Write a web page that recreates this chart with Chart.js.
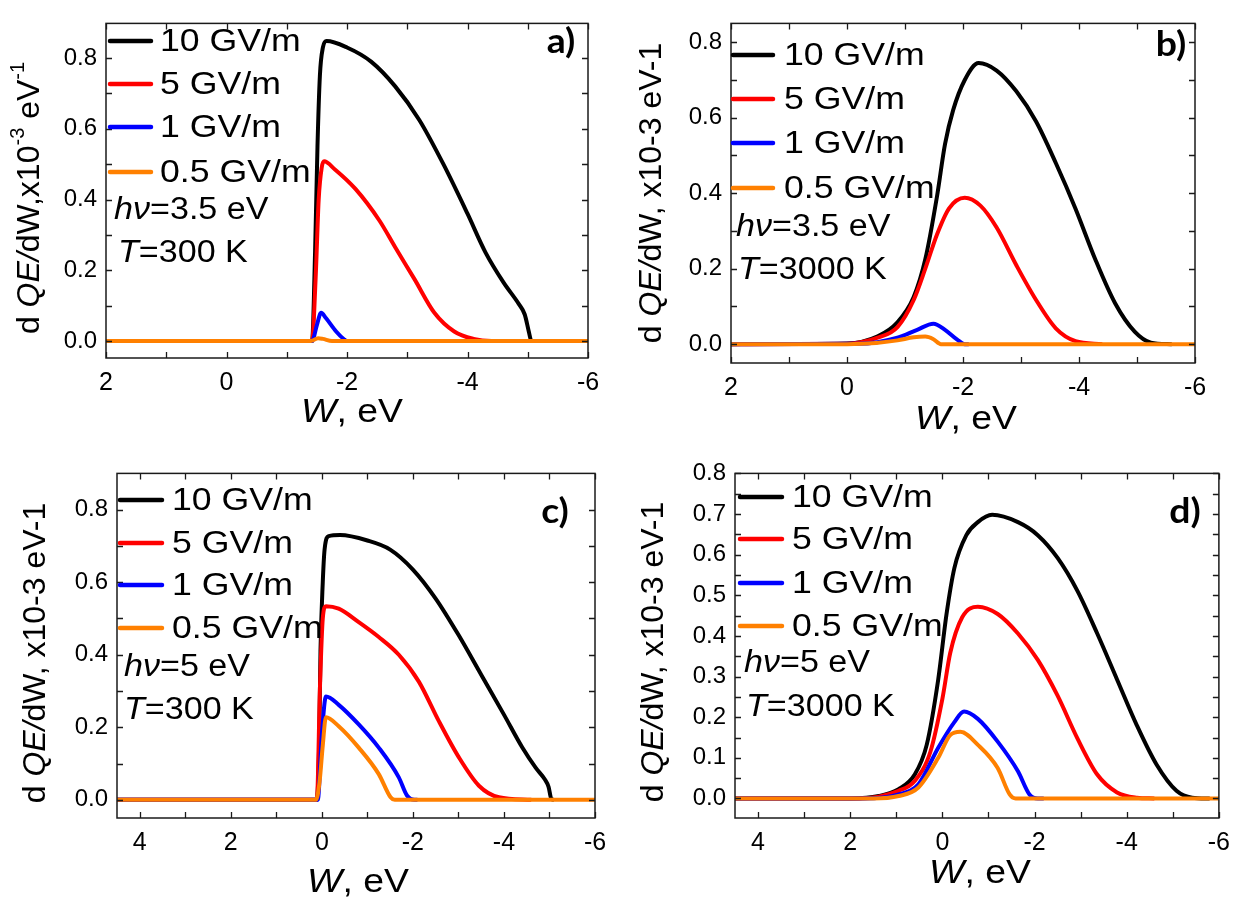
<!DOCTYPE html>
<html>
<head>
<meta charset="utf-8">
<script src="https://cdn.jsdelivr.net/npm/chart.js@4.4.1/dist/chart.umd.min.js"></script>
<style>
  body { margin: 0; background: #fff; width: 1240px; height: 906px; position: relative; overflow: hidden; }
  canvas { position: absolute; }
</style>
</head>
<body>
<canvas id="chartA" width="620" height="440" style="left:0;top:0"></canvas>
<canvas id="chartB" width="620" height="440" style="left:620px;top:0"></canvas>
<canvas id="chartC" width="620" height="456" style="left:0;top:450px"></canvas>
<canvas id="chartD" width="620" height="456" style="left:620px;top:450px"></canvas>
<script>
const FONT = '"Liberation Sans", Arial, sans-serif';

const fieldLabels = ['10 GV/m', '5 GV/m', '1 GV/m', '0.5 GV/m'];
const lineColors = ['#000000', '#ff0000', '#0000ff', '#ff8000'];

// tick values
const xMajorAB = [2, 0, -2, -4, -6];
const xMinorAB = [1, -1, -3, -5];
const xMajorCD = [4, 2, 0, -2, -4, -6];
const xMinorCD = [3, 1, -1, -3, -5];
const yMajorABC = [0, 0.2, 0.4, 0.6, 0.8];
const yMinorABC = [0.1, 0.3, 0.5, 0.7];
const yMajorD = [0, 0.1, 0.2, 0.3, 0.4, 0.5, 0.6, 0.7, 0.8];
const yMinorD = [0.05, 0.15, 0.25, 0.35, 0.45, 0.55, 0.65, 0.75];

// a) hv=3.5 eV, T=300 K
const aW10 = [2, -1.42, -1.47, -1.51, -1.55, -1.60, -1.66, -2.0, -2.4, -2.8, -3.2, -3.6, -4.0, -4.3, -4.6, -4.85, -4.95, -5.02, -5.06, -5.2];
const aQ10 = [0, 0, 0.25, 0.55, 0.75, 0.83, 0.848, 0.83, 0.79, 0.72, 0.625, 0.50, 0.36, 0.25, 0.165, 0.105, 0.075, 0.025, 0, 0];
const aW5 = [2, -1.42, -1.48, -1.53, -1.58, -1.62, -1.8, -2.14, -2.54, -2.8, -3.12, -3.45, -3.78, -4.1, -4.4, -4.8];
const aQ5 = [0, 0, 0.18, 0.40, 0.49, 0.508, 0.485, 0.43, 0.34, 0.265, 0.175, 0.08, 0.027, 0.006, 0, 0];
const aW1 = [2, -1.42, -1.5, -1.57, -1.65, -1.82, -1.95, -2.0, -2.2];
const aQ1 = [0, 0, 0.045, 0.08, 0.065, 0.027, 0.005, 0, 0];
const aW05 = [2, -1.4, -1.52, -1.6, -1.75, -6];
const aQ05 = [0, 0, 0.008, 0.006, 0, 0];

// b) hv=3.5 eV, T=3000 K
const bW10 = [2, 0, -0.53, -0.87, -1.15, -1.35, -1.55, -1.69, -1.83, -2.03, -2.27, -2.58, -2.92, -3.26, -3.6, -3.94, -4.28, -4.62, -4.96, -5.24, -5.6];
const bQ10 = [0, 0.002, 0.021, 0.058, 0.125, 0.225, 0.39, 0.53, 0.62, 0.70, 0.745, 0.725, 0.67, 0.59, 0.48, 0.359, 0.225, 0.109, 0.033, 0.004, 0];
const bW5 = [2, 0, -0.53, -0.87, -1.15, -1.35, -1.55, -1.76, -2.03, -2.3, -2.58, -2.92, -3.26, -3.6, -3.94, -4.4];
const bQ5 = [0, 0.001, 0.017, 0.045, 0.117, 0.2, 0.29, 0.36, 0.388, 0.367, 0.309, 0.209, 0.117, 0.042, 0.008, 0];
const bW1 = [2, -0.2, -0.87, -1.21, -1.49, -1.69, -1.9, -2.03, -2.1];
const bQ1 = [0, 0.001, 0.017, 0.038, 0.054, 0.038, 0.012, 0, 0];
const bW05 = [2, 0, -0.5, -0.87, -1.15, -1.35, -1.49, -1.62, -6];
const bQ05 = [0, 0, 0.003, 0.01, 0.018, 0.02, 0.013, 0, 0];

// c) hv=5 eV, T=300 K
const cW10 = [4.5, 0.11, 0.06, 0.03, -0.02, -0.06, -0.15, -0.4, -1.0, -1.5, -2.0, -2.5, -3.0, -3.5, -4.0, -4.4, -4.7, -4.9, -4.98, -5.04, -5.1];
const cQ10 = [0, 0, 0.15, 0.41, 0.6, 0.69, 0.727, 0.73, 0.715, 0.69, 0.635, 0.555, 0.455, 0.345, 0.235, 0.145, 0.088, 0.056, 0.036, 0.003, 0];
const cW5 = [4.5, 0.11, 0.04, -0.02, -0.09, -0.37, -0.81, -1.25, -1.69, -2.13, -2.57, -3.01, -3.45, -3.89, -4.6];
const cQ5 = [0, 0, 0.317, 0.5, 0.534, 0.527, 0.49, 0.449, 0.40, 0.326, 0.217, 0.117, 0.039, 0.007, 0];
const cW1 = [4.5, 0.09, 0, -0.09, -0.37, -0.81, -1.25, -1.69, -1.87, -2.04, -2.1];
const cQ1 = [0, 0, 0.18, 0.285, 0.262, 0.208, 0.144, 0.062, 0.012, 0, 0];
const cW05 = [4.5, 0.13, 0.05, -0.02, -0.09, -0.37, -0.81, -1.25, -1.51, -1.6, -6];
const cQ05 = [0, 0, 0.05, 0.15, 0.228, 0.203, 0.144, 0.071, 0.007, 0, 0];

// d) hv=5 eV, T=3000 K
const dW10 = [4.5, 1.98, 1.38, 0.95, 0.6, 0.34, 0.09, -0.09, -0.26, -0.52, -0.77, -1.08, -1.64, -2.07, -2.5, -2.93, -3.36, -3.79, -4.22, -4.65, -5.08, -5.42, -5.8];
const dQ10 = [0, 0, 0.006, 0.023, 0.059, 0.132, 0.293, 0.454, 0.567, 0.648, 0.68, 0.698, 0.68, 0.648, 0.592, 0.511, 0.406, 0.293, 0.18, 0.083, 0.019, 0.002, 0];
const dW5 = [4.5, 1.81, 0.95, 0.6, 0.26, 0, -0.17, -0.43, -0.77, -1.2, -1.64, -2.07, -2.5, -2.93, -3.36, -3.79, -4.22, -4.6];
const dQ5 = [0, 0, 0.019, 0.043, 0.115, 0.245, 0.358, 0.446, 0.472, 0.454, 0.406, 0.341, 0.253, 0.148, 0.059, 0.015, 0.002, 0];
const dW1 = [4.5, 1.7, 0.95, 0.52, 0.09, -0.26, -0.47, -0.77, -1.2, -1.64, -1.89, -2.07, -2.2];
const dQ1 = [0, 0, 0.01, 0.035, 0.125, 0.188, 0.214, 0.196, 0.14, 0.067, 0.01, 0, 0];
const dW05 = [4.5, 1.5, 0.95, 0.52, 0.09, -0.17, -0.39, -0.77, -1.2, -1.46, -1.59, -6];
const dQ05 = [0, 0, 0.006, 0.027, 0.10, 0.156, 0.164, 0.132, 0.075, 0.01, 0, 0];

const pts = (ws, qs) => ws.map((w, i) => ({ x: w, y: qs[i] }));

function fontFor(st, size) {
    if (st === 'i') return 'italic ' + size + 'px ' + FONT;
    if (st === 's') return Math.round(size * 0.62) + 'px ' + FONT;
    return size + 'px ' + FONT;
}

// draws a line of text made of runs: [text, style] ('' normal, 'i' italic, 's' superscript)
// sx stretches the text along its own direction
function drawRich(ctx, runs, x, y, size, align, sx) {
    sx = sx || 1;
    let total = 0;
    for (const [t, st] of runs) {
        ctx.font = fontFor(st, size);
        total += ctx.measureText(t).width;
    }
    ctx.save();
    ctx.translate(x, y);
    ctx.scale(sx, 1);
    let cx = align === 'center' ? -total / 2 : 0;
    ctx.textAlign = 'left';
    ctx.textBaseline = 'middle';
    for (const [t, st] of runs) {
        ctx.font = fontFor(st, size);
        const dy = st === 's' ? -size * 0.36 : 0;
        ctx.fillText(t, cx, dy);
        cx += ctx.measureText(t).width;
    }
    ctx.restore();
}

function decor(p) {
    return {
        id: 'decor',
        afterDatasetsDraw(chart) {
            const ctx = chart.ctx;
            const a = chart.chartArea;
            const xs = chart.scales.x, ys = chart.scales.y;
            ctx.save();
            ctx.strokeStyle = '#1a1a1a';
            ctx.lineWidth = 1.5;
            ctx.strokeRect(a.left, a.top, a.right - a.left, a.bottom - a.top);

            ctx.lineWidth = 1.3;
            ctx.beginPath();
            for (const v of p.xMajor.concat(p.xMinor)) {
                const px = Math.round(xs.getPixelForValue(v)) + 0.5;
                ctx.moveTo(px, a.bottom); ctx.lineTo(px, a.bottom - 6);
                ctx.moveTo(px, a.top); ctx.lineTo(px, a.top + 6);
            }
            for (const v of p.yMajor.concat(p.yMinor)) {
                const py = Math.round(ys.getPixelForValue(v)) + 0.5;
                ctx.moveTo(a.left, py); ctx.lineTo(a.left + 6, py);
                ctx.moveTo(a.right, py); ctx.lineTo(a.right - 6, py);
            }
            ctx.stroke();

            // legend
            ctx.lineCap = 'round';
            chart.data.datasets.forEach((ds, i) => {
                const y = p.legend.rows[i];
                ctx.strokeStyle = ds.borderColor;
                ctx.lineWidth = 4.5;
                ctx.beginPath();
                ctx.moveTo(p.legend.x0, y);
                ctx.lineTo(p.legend.x1, y);
                ctx.stroke();
                ctx.fillStyle = '#000';
                drawRich(ctx, [[ds.label, '']], p.legend.tx, y + 1, 31, 'left', 1.15);
            });

            ctx.fillStyle = '#000';
            drawRich(ctx, [['hν', 'i'], ['=' + p.photon, '']], p.hv[0], p.hv[1], 31, 'left', 1.1);
            drawRich(ctx, [['T', 'i'], ['=' + p.temp, '']], p.t[0], p.t[1], 31, 'left', 1.1);

            ctx.save();
            ctx.translate(p.letterPos[0], p.letterPos[1]);
            ctx.scale(1.1, 1);
            ctx.font = 'bold 34px Lato, "Liberation Sans", sans-serif';
            ctx.textAlign = 'center';
            ctx.textBaseline = 'middle';
            ctx.fillText(p.letter, 0, 0);
            ctx.restore();

            drawRich(ctx, [['W', 'i'], [', eV', '']], p.xTitle[0], p.xTitle[1], 34, 'center', 1.1);

            ctx.translate(p.yTitle[0], p.yTitle[1]);
            ctx.rotate(-Math.PI / 2);
            drawRich(ctx, p.yRuns, 0, 0, 32, 'center');
            ctx.restore();
        }
    };
}

function makeChart(id, p) {
    const datasets = p.series.map((s, i) => ({
        label: fieldLabels[i],
        data: pts(s[0], s[1]),
        borderColor: lineColors[i],
        borderWidth: 4,
        pointRadius: 0,
        fill: false,
        cubicInterpolationMode: 'monotone',
        order: 4 - i
    }));
    return new Chart(document.getElementById(id), {
        type: 'line',
        data: { datasets: datasets },
        options: {
            responsive: false,
            animation: false,
            events: [],
            layout: { autoPadding: false, padding: { left: 0, top: p.area.top, right: p.area.right, bottom: 0 } },
            plugins: { legend: { display: false }, tooltip: { enabled: false } },
            scales: {
                x: {
                    type: 'linear',
                    min: p.xRange[0], max: p.xRange[1], reverse: true,
                    afterBuildTicks: s => { s.ticks = p.xMajor.map(v => ({ value: v })); },
                    afterFit: s => { s.height = p.area.xh; },
                    grid: { display: false, drawTicks: false },
                    border: { display: false },
                    ticks: { autoSkip: false, maxRotation: 0, padding: 10, color: '#000',
                        font: { family: FONT, size: 25 }, callback: v => String(v) }
                },
                y: {
                    type: 'linear',
                    min: p.yRange[0], max: p.yRange[1],
                    afterBuildTicks: s => { s.ticks = p.yMajor.map(v => ({ value: v })); },
                    afterFit: s => { s.width = p.area.yw; },
                    grid: { display: false, drawTicks: false },
                    border: { display: false },
                    ticks: { autoSkip: false, padding: 9, color: '#000',
                        font: { family: FONT, size: 24 }, callback: v => v.toFixed(1) }
                }
            }
        },
        plugins: [decor(p)]
    });
}

const yRunsSup = [['d', ''], [' ', ''], ['QE/', 'i'], ['dW,x10', ''], ['-3', 's'], [' eV', ''], ['-1', 's']];
const yRunsPlain = [['d', ''], [' ', ''], ['QE/', 'i'], ['dW, x10-3 eV-1', '']];

makeChart('chartA', {
    series: [[aW10, aQ10], [aW5, aQ5], [aW1, aQ1], [aW05, aQ05]],
    xRange: [-6, 2], yRange: [-0.048, 0.898],
    xMajor: xMajorAB, xMinor: xMinorAB, yMajor: yMajorABC, yMinor: yMinorABC,
    area: { top: 4, right: 32, yw: 106, xh: 82 },
    legend: { x0: 110, x1: 151, tx: 160, rows: [41, 84, 127, 172] },
    photon: '3.5 eV', temp: '300 K', hv: [114, 210], t: [118, 253],
    letter: 'a)', letterPos: [561, 42],
    xTitle: [352, 413], yTitle: [30, 198], yRuns: yRunsSup
});

makeChart('chartB', {
    series: [[bW10, bQ10], [bW5, bQ5], [bW1, bQ1], [bW05, bQ05]],
    xRange: [-6, 2], yRange: [-0.05, 0.85],
    xMajor: xMajorAB, xMinor: xMinorAB, yMajor: yMajorABC, yMinor: yMinorABC,
    area: { top: 4, right: 45, yw: 111, xh: 77 },
    legend: { x0: 113, x1: 153, tx: 164, rows: [55, 99, 143, 188] },
    photon: '3.5 eV', temp: '3000 K', hv: [116, 227], t: [118, 270],
    letter: 'b)', letterPos: [551, 45],
    xTitle: [346, 420], yTitle: [32, 193], yRuns: yRunsPlain
});

makeChart('chartC', {
    series: [[cW10, cQ10], [cW5, cQ5], [cW1, cQ1], [cW05, cQ05]],
    xRange: [-6, 4.5], yRange: [-0.05, 0.9],
    xMajor: xMajorCD, xMinor: xMinorCD, yMajor: yMajorABC, yMinor: yMinorABC,
    area: { top: 20, right: 25, yw: 117, xh: 88 },
    legend: { x0: 120, x1: 162, tx: 172, rows: [50, 93, 135, 178] },
    photon: '5 eV', temp: '300 K', hv: [124, 217], t: [124, 260],
    letter: 'c)', letterPos: [555, 62],
    xTitle: [358, 433], yTitle: [36, 203], yRuns: yRunsPlain
});

makeChart('chartD', {
    series: [[dW10, dQ10], [dW5, dQ5], [dW1, dQ1], [dW05, dQ05]],
    xRange: [-6, 4.5], yRange: [-0.048, 0.8],
    xMajor: xMajorCD, xMinor: xMinorCD, yMajor: yMajorD, yMinor: yMinorD,
    area: { top: 17, right: 18, yw: 115, xh: 88 },
    legend: { x0: 120, x1: 162, tx: 172, rows: [47, 89, 133, 176] },
    photon: '5 eV', temp: '3000 K', hv: [124, 213], t: [126, 257],
    letter: 'd)', letterPos: [565, 62],
    xTitle: [360, 424], yTitle: [34, 202], yRuns: yRunsPlain
});
</script>
</body>
</html>
